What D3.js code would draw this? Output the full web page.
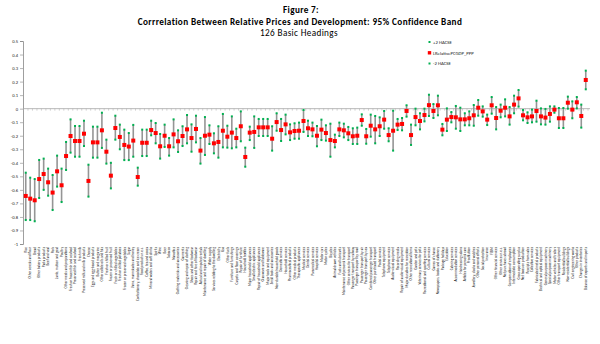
<!DOCTYPE html>
<html><head><meta charset="utf-8">
<script src="https://cdn.jsdelivr.net/npm/d3@7"></script>
<style>body{margin:0;background:#fff}svg{display:block}</style>
</head><body><svg id="c" width="600" height="344"></svg>
<script>
const categories = ["Rice","Other cereals and flour","Bread","Other bakery products","Pasta products","Beef and veal","Pork","Lamb, mutton and goat","Poultry","Other meats and preparations","Fresh or frozen fish and seafood","Preserved fish and seafood","Fresh milk","Preserved milk and milk products","Cheese","Eggs and egg-based products","Butter and margarine","Other edible oils and fats","Fresh or chilled fruit","Frozen or preserved fruit","Fresh or chilled vegetables","Fresh or chilled potatoes","Frozen or preserved vegetables","Sugar","Jams, marmalades and honey","Confectionery, chocolate and ice cream","Food products n.e.c.","Coffee, tea and cocoa","Mineral waters and soft drinks","Spirits","Wine","Beer","Tobacco","Narcotics","Clothing materials and accessories","Garments","Cleaning and repair of clothing","Shoes and other footwear","Repair and hire of footwear","Actual and imputed rentals","Maintenance and repair of dwelling","Water supply","Services relating to the dwelling","Electricity","Gas","Other fuels","Furniture and furnishings","Carpets and floor coverings","Repair of furniture","Household textiles","Major household appliances","Small electric appliances","Repair of household appliances","Glassware and tableware","Major tools and equipment","Small tools and accessories","Non-durable household goods","Domestic services","Household services","Pharmaceutical products","Other medical products","Therapeutic appliances","Medical services","Dental services","Paramedical services","Hospital services","Motor cars","Motor cycles","Bicycles","Animal drawn vehicles","Fuels and lubricants","Maintenance of personal transport","Other services for transport","Passenger transport by railway","Passenger transport by road","Passenger transport by air","Passenger transport by sea","Combined passenger transport","Other purchased transport","Postal services","Telephone equipment","Telephone services","Audio-visual equipment","Recording media","Repair of audio-visual equipment","Major durables for recreation","Other recreational items","Garden and pets","Veterinary services for pets","Recreational and sporting services","Cultural services","Games of chance","Newspapers, books and stationery","Package holidays","Education","Catering services","Accommodation services","Hairdressing salons","Articles for personal care","Prostitution","Jewellery, clocks and watches","Other personal effects","Social protection","Insurance","FISIM","Other financial services","Other services n.e.c.","Net purchases abroad","Compensation of employees","Intermediate consumption","Gross operating surplus","Net taxes on production","Receipts from sales","Collective services","Fabricated metal products","Electrical and optical equipment","General purpose machinery","Special purpose machinery","Motor vehicles and trailers","Other transport equipment","Residential buildings","Non-residential buildings","Civil engineering works","Other products","Changes in inventories","Balance of exports and imports"];

const values = [-0.645,-0.665,-0.677,-0.52,-0.483,-0.544,-0.62,-0.463,-0.566,-0.35,-0.202,-0.239,-0.239,-0.185,-0.534,-0.249,-0.249,-0.16,-0.318,-0.495,-0.143,-0.209,-0.268,-0.28,-0.236,-0.505,-0.252,-0.252,-0.158,-0.18,-0.278,-0.2,-0.278,-0.19,-0.241,-0.202,-0.153,-0.217,-0.15,-0.31,-0.2,-0.192,-0.256,-0.246,-0.163,-0.207,-0.177,-0.217,-0.13,-0.357,-0.177,-0.172,-0.138,-0.138,-0.138,-0.222,-0.099,-0.158,-0.116,-0.175,-0.165,-0.163,-0.091,-0.145,-0.153,-0.2,-0.155,-0.18,-0.232,-0.239,-0.153,-0.16,-0.182,-0.204,-0.2,-0.084,-0.204,-0.126,-0.153,-0.13,-0.081,-0.195,-0.163,-0.118,-0.113,-0.017,-0.195,-0.062,-0.091,-0.047,0.026,-0.017,0.025,-0.155,-0.081,-0.062,-0.064,-0.079,-0.079,-0.071,-0.049,0.007,-0.02,-0.081,0.025,-0.069,-0.015,0.007,-0.057,0.03,0.076,-0.049,-0.064,-0.057,-0.017,-0.057,-0.066,-0.039,-0.007,-0.071,-0.071,0.044,-0.007,0.047,-0.054,0.212];

const upper = [-0.473,-0.51,-0.52,-0.379,-0.369,-0.443,-0.49,-0.347,-0.443,-0.246,-0.079,-0.128,-0.128,-0.089,-0.414,-0.133,-0.133,-0.03,-0.229,-0.4,-0.052,-0.118,-0.155,-0.18,-0.12,-0.436,-0.155,-0.155,-0.089,-0.106,-0.187,-0.118,-0.217,-0.079,-0.16,-0.13,-0.047,-0.116,-0.052,-0.217,-0.062,-0.123,-0.182,-0.13,-0.039,-0.126,-0.057,-0.148,-0.02,-0.288,-0.133,-0.057,-0.076,-0.076,-0.076,-0.13,-0.034,-0.076,-0.044,-0.116,-0.108,-0.103,-0.01,-0.089,-0.103,-0.128,-0.081,-0.123,-0.111,-0.192,-0.103,-0.111,-0.135,-0.145,-0.14,-0.042,-0.15,-0.044,-0.054,-0.064,-0.017,-0.145,-0.015,-0.076,-0.069,0.025,-0.118,0,-0.034,0,0.103,0.034,0.096,-0.113,0.002,-0.025,0.02,0.007,-0.034,-0.02,0.027,0.064,0.017,-0.044,0.086,0.012,0.03,0.069,0.012,0.096,0.138,-0.01,-0.027,-0.007,0.059,0.002,-0.002,0.017,0.017,0.005,0.005,0.089,0.054,0.086,0.03,0.281];

const lower = [-0.823,-0.823,-0.832,-0.66,-0.6,-0.643,-0.749,-0.576,-0.69,-0.453,-0.325,-0.355,-0.355,-0.276,-0.65,-0.362,-0.362,-0.29,-0.406,-0.589,-0.229,-0.3,-0.38,-0.38,-0.355,-0.569,-0.35,-0.35,-0.197,-0.256,-0.369,-0.283,-0.347,-0.286,-0.32,-0.276,-0.256,-0.318,-0.249,-0.406,-0.342,-0.261,-0.33,-0.362,-0.286,-0.288,-0.293,-0.286,-0.241,-0.429,-0.232,-0.29,-0.202,-0.202,-0.202,-0.31,-0.163,-0.239,-0.19,-0.232,-0.222,-0.222,-0.172,-0.202,-0.204,-0.278,-0.232,-0.236,-0.355,-0.286,-0.202,-0.212,-0.232,-0.261,-0.261,-0.126,-0.259,-0.207,-0.256,-0.202,-0.148,-0.241,-0.31,-0.158,-0.16,-0.059,-0.268,-0.123,-0.153,-0.094,-0.054,-0.069,-0.049,-0.197,-0.165,-0.101,-0.148,-0.165,-0.123,-0.123,-0.126,-0.052,-0.059,-0.121,-0.037,-0.153,-0.064,-0.057,-0.118,-0.034,0.015,-0.086,-0.106,-0.101,-0.096,-0.116,-0.118,-0.096,-0.03,-0.143,-0.143,0,-0.071,0.002,-0.14,0.143];

const yTicks = [0.5,0.4,0.3,0.2,0.1,0,-0.1,-0.2,-0.3,-0.4,-0.5,-0.6,-0.7,-0.8,-0.9,-1];
const seriesNames = ["+2 HACSE","LRelativePCGDP_PPP","-2 HACSE"];
const titleLines = ["Figure 7:","Corrrelation Between Relative Prices and Development: 95% Confidence Band","126 Basic Headings"];

(function () {
const svg = d3.select("#c");
const font = "Calibri, Carlito, 'Open Sans', 'Liberation Sans', sans-serif";
const pL = 23, pR = 588, pT = 41, pB = 244;
const n = values.length;
const x = d3.scaleBand().domain(d3.range(n)).range([pL + 0.5, pR]).padding(0);
const y = d3.scaleLinear().domain([-1, 0.5]).range([pB, pT]);
const cx = i => x(i) + x.bandwidth() / 2;

// titles
const tg = svg.append("g").attr("font-family", font).attr("fill", "#000").attr("text-anchor", "middle");
tg.append("text").attr("x", 301).attr("y", 12.8).attr("font-size", 9.2).attr("font-weight", "bold").attr("letter-spacing", 0.35).text(titleLines[0]);
tg.append("text").attr("x", 300).attr("y", 24.5).attr("font-size", 9.2).attr("font-weight", "bold").attr("letter-spacing", 0.38).text(titleLines[1]);
tg.append("text").attr("x", 299).attr("y", 36.4).attr("font-size", 9.2).attr("letter-spacing", 0.35).text(titleLines[2]);

// y axis
const yAxis = d3.axisLeft(y).tickValues(yTicks).tickSize(3).tickPadding(2)
  .tickFormat(d => d === 0 ? "0" : String(+d.toFixed(1)));
const ya = svg.append("g").attr("transform", `translate(${pL},0)`).call(yAxis);
ya.select(".domain").attr("stroke", "#868686").attr("stroke-width", 0.8);
ya.selectAll(".tick line").attr("stroke", "#868686").attr("stroke-width", 0.6);
ya.selectAll(".tick text").attr("font-family", font).attr("font-size", 4.6).attr("fill", "#222");

// zero category axis with ticks between categories
const zg = svg.append("g").attr("transform", `translate(0,${y(0)})`);
zg.append("line").attr("x1", pL).attr("x2", pR + 2).attr("stroke", "#a6a6a6").attr("stroke-width", 0.8);
zg.selectAll("line.t").data(d3.range(n + 1)).join("line").attr("class", "t")
  .attr("x1", i => x(0) + i * x.bandwidth()).attr("x2", i => x(0) + i * x.bandwidth())
  .attr("y1", 0).attr("y2", 2).attr("stroke", "#a6a6a6").attr("stroke-width", 0.5);

// category labels
svg.append("g").selectAll("text").data(categories.slice(0, n)).join("text")
  .attr("transform", (d, i) => `translate(${cx(i) + 1.2},${pB + 3}) rotate(-90)`)
  .attr("text-anchor", "end").attr("font-family", font).attr("font-size", 3.4).attr("fill", "#111").text(d => d);

// error bars
svg.append("g").selectAll("line").data(values).join("line")
  .attr("x1", (d, i) => cx(i)).attr("x2", (d, i) => cx(i))
  .attr("y1", (d, i) => y(upper[i])).attr("y2", (d, i) => y(lower[i]))
  .attr("stroke", "#959595").attr("stroke-width", 1.6);

// markers
const green = "#00b050", red = "#ff0000";
svg.append("g").selectAll("rect").data(upper).join("rect")
  .attr("x", (d, i) => cx(i) - 1).attr("y", d => y(d) - 1).attr("width", 2).attr("height", 2).attr("fill", green);
svg.append("g").selectAll("rect").data(lower).join("rect")
  .attr("x", (d, i) => cx(i) - 1).attr("y", d => y(d) - 1).attr("width", 2).attr("height", 2).attr("fill", green);
svg.append("g").selectAll("rect").data(values).join("rect")
  .attr("x", (d, i) => cx(i) - 2).attr("y", d => y(d) - 2).attr("width", 4).attr("height", 4).attr("fill", red);

// legend
const lg = svg.append("g").attr("font-family", font).attr("font-size", 4.8).attr("fill", "#222");
const ly = [42, 52.8, 63.5];
seriesNames.forEach((s, k) => {
  const z = k === 1 ? 3.4 : 2;
  lg.append("rect").attr("x", 429.5 - z / 2).attr("y", ly[k] - z / 2).attr("width", z).attr("height", z).attr("fill", k === 1 ? red : green);
  lg.append("text").attr("x", 433).attr("y", ly[k] + 1.7).text(s);
});
})();
</script></body></html>
